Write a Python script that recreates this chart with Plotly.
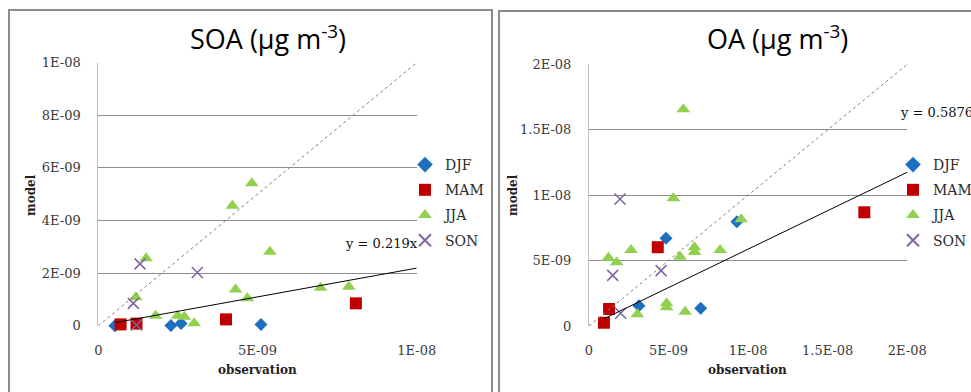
import numpy as np
import plotly.graph_objects as go

W, H = 971, 392
UNIT = 1e-9  # values below are listed in units of 1E-09

seasons = ["DJF", "MAM", "JJA", "SON"]

# SOA panel: observation vs model
soa_obs = {
    "DJF": [0.52, 2.28, 2.60, 5.11],
    "MAM": [0.70, 1.20, 4.01, 8.09],
    "JJA": [4.82, 4.21, 1.50, 5.39, 1.18, 4.31, 4.68, 6.98, 7.87, 1.80, 2.49, 2.70, 3.01],
    "SON": [1.31, 3.11, 1.10, 1.20],
}
soa_model = {
    "DJF": [0.00, 0.01, 0.08, 0.05],
    "MAM": [0.05, 0.08, 0.24, 0.85],
    "JJA": [5.42, 4.56, 2.56, 2.81, 1.08, 1.38, 1.04, 1.44, 1.48, 0.38, 0.38, 0.34, 0.09],
    "SON": [2.35, 2.02, 0.85, 0.03],
}
soa_slope = 0.219

# OA panel: observation vs model
oa_obs = {
    "DJF": [4.84, 9.29, 3.14, 7.02],
    "MAM": [0.94, 1.26, 4.32, 17.3],
    "JJA": [5.93, 5.30, 9.56, 1.22, 1.74, 2.64, 5.72, 6.63, 6.63, 8.24, 3.04, 4.88, 4.88, 6.04],
    "SON": [1.95, 1.49, 4.53, 1.99],
}
oa_model = {
    "DJF": [6.70, 7.97, 1.55, 1.35],
    "MAM": [0.25, 1.30, 6.02, 8.69],
    "JJA": [16.57, 9.76, 8.16, 5.22, 4.87, 5.81, 5.30, 6.02, 5.66, 5.81, 0.89, 1.74, 1.43, 1.09],
    "SON": [9.71, 3.87, 4.23, 0.97],
}
oa_slope = 0.5876

# axis ticks
soa_y_vals = [0, 2e-9, 4e-9, 6e-9, 8e-9, 1e-8]
soa_y_text = ["0", "2E-09", "4E-09", "6E-09", "8E-09", "1E-08"]
soa_x_vals = [0, 5e-9, 1e-8]
soa_x_text = ["0", "5E-09", "1E-08"]
oa_y_vals = [0, 5e-9, 1e-8, 1.5e-8, 2e-8]
oa_y_text = ["0", "5E-09", "1E-08", "1.5E-08", "2E-08"]
oa_x_vals = [0, 5e-9, 1e-8, 1.5e-8, 2e-8]
oa_x_text = ["0", "5E-09", "1E-08", "1.5E-08", "2E-08"]

styles = {
    "DJF": dict(symbol="diamond", color="#1F6FC0", size=10),
    "MAM": dict(symbol="square", color="#C00000", size=12),
    "JJA": dict(symbol="triangle-up", color="#92D050", size=12),
    "SON": dict(symbol="x-thin", color="#8064A2", size=11),
}

SERIF = "DejaVu Serif"
GRID = "#8C8C8C"
TXT = "#2B2B2B"


def px(x):
    return x / W


def py(y):
    return 1 - y / H


fig = go.Figure()


def add_panel(obs, model, slope, xa, ya, legend, xmax):
    for s in seasons:
        st = styles[s]
        mk = dict(symbol=st["symbol"], color=st["color"], size=st["size"])
        if s == "SON":
            mk["line"] = dict(color=st["color"], width=1.5)
        fig.add_trace(go.Scatter(
            x=np.array(obs[s]) * UNIT, y=np.array(model[s]) * UNIT,
            mode="markers", name=s, marker=mk, xaxis=xa, yaxis=ya,
            legend=legend, legendgroup=legend + s, cliponaxis=False,
        ))
    # 1:1 reference line
    fig.add_trace(go.Scatter(
        x=[0, xmax], y=[0, xmax], mode="lines", xaxis=xa, yaxis=ya,
        line=dict(color="#7F7F7F", width=1, dash="dot"), showlegend=False,
        hoverinfo="skip",
    ))
    # linear fit through origin
    all_obs = np.concatenate([obs[s] for s in seasons]) * UNIT
    tx = np.array([all_obs.min(), xmax])
    fig.add_trace(go.Scatter(
        x=tx, y=slope * tx, mode="lines", xaxis=xa, yaxis=ya,
        line=dict(color="#000000", width=1), showlegend=False, hoverinfo="skip",
    ))


add_panel(soa_obs, soa_model, soa_slope, "x", "y", "legend", 1e-8)
add_panel(oa_obs, oa_model, oa_slope, "x2", "y2", "legend2", 2e-8)

axis_font = dict(family=SERIF, size=13, color="#3A3A3A")


def xaxis(domain, rng, vals, text, anchor):
    return dict(domain=domain, range=rng, tickvals=vals, ticktext=text,
                showgrid=False, zeroline=False, showline=False, ticks="",
                tickfont=axis_font, anchor=anchor, ticklabelstandoff=15,
                fixedrange=True)


def yaxis(domain, rng, vals, text, anchor):
    return dict(domain=domain, range=rng, tickvals=vals, ticktext=text,
                showgrid=True, gridcolor=GRID, gridwidth=1, zeroline=False,
                showline=True, linecolor="#BFBFBF", linewidth=1, ticks="",
                tickfont=axis_font, anchor=anchor, ticklabelstandoff=14,
                fixedrange=True)


legend_common = dict(
    font=dict(family=SERIF, size=14, color=TXT), bgcolor="rgba(0,0,0,0)",
    tracegroupgap=4, itemwidth=30, xanchor="left", yanchor="top",
    itemsizing="constant",
)

fig.update_layout(
    width=W, height=H,
    # legends sit near the page edge; keep them from pushing the margins
    margin=dict(l=0, r=0, t=0, b=0, autoexpand=False),
    paper_bgcolor="white", plot_bgcolor="white",
    xaxis=xaxis([px(98.3), px(416.7)], [0, 1e-8], soa_x_vals, soa_x_text, "y"),
    yaxis=yaxis([py(325.7), py(62.7)], [0, 1e-8], soa_y_vals, soa_y_text, "x"),
    xaxis2=xaxis([px(589), px(907.3)], [0, 2e-8], oa_x_vals, oa_x_text, "y2"),
    yaxis2=yaxis([py(326), py(64.3)], [0, 2e-8], oa_y_vals, oa_y_text, "x2"),
    legend=dict(x=px(405), y=py(149), **legend_common),
    legend2=dict(x=px(893), y=py(149), **legend_common),
    showlegend=True,
)

title_font = dict(family="Open Sans", size=27, color="#000000")
label_font = dict(family=SERIF, size=13, color="#111111")
axis_title_font = dict(family=SERIF, size=12, color="#222222", weight="bold")

annotations = [
    dict(x=px(268), y=py(38), text="SOA (μg m<sup>-3</sup>)", font=title_font),
    dict(x=px(777), y=py(38), text="OA (μg m<sup>-3</sup>)", font=title_font),
    dict(x=px(381), y=py(243), text="y = 0.219x", font=label_font),
    dict(x=px(898), y=py(112), text="y = 0.5876x", font=label_font, xanchor="left"),
    dict(x=px(257), y=py(370), text="observation", font=axis_title_font),
    dict(x=px(747), y=py(370), text="observation", font=axis_title_font),
    dict(x=px(31), y=py(195), text="model", font=axis_title_font, textangle=-90),
    dict(x=px(513), y=py(195), text="model", font=axis_title_font, textangle=-90),
]
for a in annotations:
    a.setdefault("xanchor", "center")
    a.update(xref="paper", yref="paper", showarrow=False, yanchor="middle")
    fig.add_annotation(**a)

# panel frames
frame = dict(color="#8C8C8C", width=2)
fig.add_shape(type="rect", xref="paper", yref="paper",
              x0=px(9), x1=px(492), y0=py(420), y1=py(10), line=frame)
fig.add_shape(type="rect", xref="paper", yref="paper",
              x0=px(499), x1=px(1000), y0=py(420), y1=py(11), line=frame)

fig.write_html("out.html")
